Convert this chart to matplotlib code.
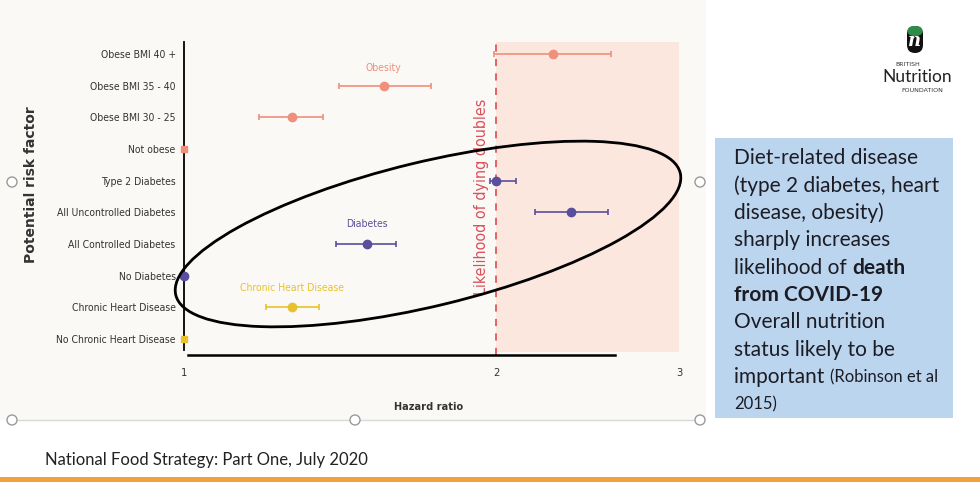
import numpy as np
import matplotlib
matplotlib.use("Agg")
import matplotlib.pyplot as plt
from matplotlib.patches import Ellipse, Rectangle, Circle, FancyBboxPatch

# data (hazard ratios, log x axis)
categories = ['Obese BMI 40 +', 'Obese BMI 35 - 40', 'Obese BMI 30 - 25', 'Not obese',
              'Type 2 Diabetes', 'All Uncontrolled Diabetes', 'All Controlled Diabetes',
              'No Diabetes', 'Chronic Heart Disease', 'No Chronic Heart Disease']
hr = [2.27, 1.56, 1.27, 1.0, 2.0, 2.36, 1.50, 1.0, 1.27, 1.0]
hr_lo = [1.99, 1.41, 1.18, np.nan, 1.97, 2.18, 1.40, np.nan, 1.20, np.nan]
hr_hi = [2.58, 1.73, 1.36, np.nan, 2.09, 2.56, 1.60, np.nan, 1.35, np.nan]
group = ['ob', 'ob', 'ob', 'ob', 'db', 'db', 'db', 'db', 'ch', 'ch']
is_ref = [False, False, False, True, False, False, False, True, False, True]
x_ticks = [1, 2, 3]

colours = {'ob': '#ef8f7c', 'db': '#5a4e9e', 'ch': '#e9c12a'}
group_names = {'ob': 'Obesity', 'db': 'Diabetes', 'ch': 'Chronic Heart Disease'}
group_label_pos = {'ob': (1.555, 0.45), 'db': (1.50, 5.37), 'ch': (1.27, 7.39)}

box_lines = [
    [('Diet-related disease', 'normal', 15)],
    [('(type 2 diabetes, heart', 'normal', 15)],
    [('disease, obesity)', 'normal', 15)],
    [('sharply increases', 'normal', 15)],
    [('likelihood of ', 'normal', 15), ('death', 'bold', 15)],
    [('from COVID-19', 'bold', 15)],
    [('Overall nutrition', 'normal', 15)],
    [('status likely to be', 'normal', 15)],
    [('important ', 'normal', 15), ('(Robinson et al', 'normal', 12)],
    [('2015)', 'normal', 12)],
]

narrow = ['DejaVu Sans']
slide_font = ['Lato', 'DejaVu Sans']

W, H = 980, 482
fig = plt.figure(figsize=(W / 100, H / 100), dpi=100)
fig.patch.set_facecolor('white')

# background layer in pixel coords
bg = fig.add_axes([0, 0, 1, 1], zorder=0)
bg.set_xlim(0, W)
bg.set_ylim(H, 0)
bg.axis('off')
bg.add_patch(Rectangle((0, 0), 706, 420, color='#fbf9f6', lw=0))
bg.plot([14, 696], [420, 420], color='#d9d9d9', lw=1)
bg.add_patch(Rectangle((0, 477), W, 5, color='#f2a23a', lw=0))

# main forest plot
top_px, bot_px, left_px, right_px = 42, 355, 184, 679
ax = fig.add_axes([left_px / W, 1 - bot_px / H, (right_px - left_px) / W, (bot_px - top_px) / H],
                  zorder=2)
ax.patch.set_visible(False)
ax.set_xscale('log')
ax.set_xlim(1, 3)
row_gap = 31.67
ax.set_ylim(9 + (bot_px - 339) / row_gap, -(54 - top_px) / row_gap)

ax.axvspan(2, 3, ymin=0.01, ymax=1.0, color='#fce7df', lw=0, zorder=0)
ax.axvline(2, color='#e0585a', lw=1.3, ls=(0, (4, 4)), zorder=1)

for i, cat in enumerate(categories):
    c = colours[group[i]]
    if is_ref[i]:
        mk = 'o' if group[i] == 'db' else 's'
        ax.plot(hr[i], i, marker=mk, ms=6 if mk == 'o' else 5, color=c, zorder=4, clip_on=False)
    else:
        ax.errorbar(hr[i], i, xerr=[[hr[i] - hr_lo[i]], [hr_hi[i] - hr[i]]], fmt='o', ms=6,
                    color=c, ecolor=c, elinewidth=1.2, capsize=2, capthick=1.2, zorder=4)

for g, (gx, gy) in group_label_pos.items():
    ax.text(gx, gy, group_names[g], color=colours[g], fontsize=7.5, family=narrow,
            fontstretch='condensed', ha='center', va='center')

ax.text(1.935, 4.5, 'Likelihood of dying doubles', color='#d9505a', fontsize=11.5,
        rotation=90, ha='center', va='center', family=narrow, fontstretch='condensed')

ax.set_yticks(range(len(categories)))
ax.set_yticklabels(categories, family=narrow, fontsize=7.5, color='#333333',
                   fontstretch='condensed')
ax.set_xticks(x_ticks)
ax.set_xticklabels([str(t) for t in x_ticks], family=narrow, fontsize=8, color='#333333',
                   fontstretch='condensed')
ax.xaxis.set_minor_locator(matplotlib.ticker.NullLocator())
ax.tick_params(axis='both', length=0)
ax.tick_params(axis='y', pad=6)
ax.tick_params(axis='x', pad=9)
for s in ['top', 'right']:
    ax.spines[s].set_visible(False)
ax.spines['left'].set_linewidth(1.3)
ax.spines['left'].set_bounds(9.35, -0.379)
ax.spines['bottom'].set_linewidth(1.8)
ax.spines['bottom'].set_bounds(1.01, 2.6)
ax.set_xlabel('Hazard ratio', family=narrow, fontsize=7.8, fontweight='bold',
              fontstretch='condensed', color='#333333')
ax.xaxis.set_label_coords((429 - left_px) / (right_px - left_px), -(402 - bot_px) / (bot_px - top_px))
ax.set_ylabel('Potential risk factor', fontsize=10, fontweight='bold', color='#333333',
              family=['DejaVu Sans'])
ax.yaxis.set_label_coords(-(left_px - 38) / (right_px - left_px), 1 - (185 - top_px) / (bot_px - top_px))

# overlay: ellipse, handles, text box, logo, footer
top = fig.add_axes([0, 0, 1, 1], zorder=3)
top.set_xlim(0, W)
top.set_ylim(H, 0)
top.axis('off')
top.patch.set_visible(False)
top.add_patch(Ellipse((428, 234), 519, 144, angle=-13.6, fill=False, ec='black', lw=2))

for hx, hy in [(12, 182), (700, 182), (12, 420), (355, 420), (700, 420)]:
    top.add_patch(Circle((hx, hy), 5, fc='white', ec='#9a9a9a', lw=1))

top.add_patch(Rectangle((715, 138), 238, 280, color='#bcd5ef', lw=0))
renderer = fig.canvas.get_renderer()
y0 = 158
for k, line in enumerate(box_lines):
    x = 734
    for txt, wt, sz in line:
        t = top.text(x, y0 + k * 27.4, txt, fontsize=sz, fontweight=wt, family=slide_font,
                     color='#1c1c24', va='center', ha='left')
        bb = t.get_window_extent(renderer=renderer)
        x += bb.width

# logo
top.add_patch(FancyBboxPatch((907, 26), 16, 27, boxstyle='round,pad=0,rounding_size=8',
                             fc='#111111', ec='none'))
top.add_patch(FancyBboxPatch((907, 26), 16, 10, boxstyle='round,pad=0,rounding_size=7',
                             fc='#2e8b4a', ec='none'))
top.text(915, 41, 'n', fontsize=13, style='italic', fontweight='bold', color='white',
         ha='center', va='center', family=['DejaVu Serif'])
top.text(908, 64, 'BRITISH', fontsize=4.5, color='#333333', ha='center', va='center')
top.text(917, 77, 'Nutrition', fontsize=12.5, color='#222222', ha='center', va='center',
         family=slide_font)
top.text(922, 91, 'FOUNDATION', fontsize=4.5, color='#333333', ha='center', va='center')

top.text(45, 460, 'National Food Strategy: Part One, July 2020', fontsize=12, color='#222222',
         family=slide_font, ha='left', va='center')

fig.savefig('out.png', dpi=100, facecolor='white')
